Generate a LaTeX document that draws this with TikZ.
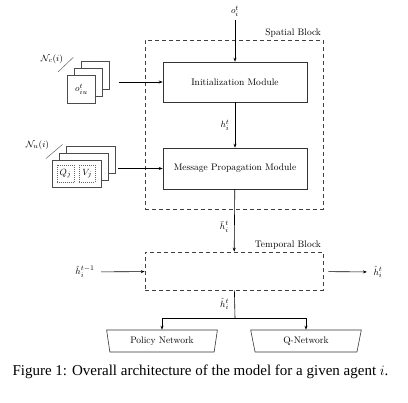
\documentclass[tikz,border=0pt]{standalone}
\usepackage{fontspec}
\newfontfamily\capfont{Liberation Serif}
\usetikzlibrary{arrows.meta,shapes.geometric,positioning}
\tikzset{
  module/.style={draw=black!80, minimum width=144pt, minimum height=40pt, inner sep=0pt},
  block/.style={draw=black!75, dash pattern=on 4pt off 3pt, inner sep=0pt},
  card/.style={draw=black!70, fill=white, inner sep=0pt},
  slot/.style={draw=black!60, line width=0.4pt, dash pattern=on 1pt off 1pt, inner sep=0pt, minimum height=17pt},
  head/.style={draw=black!80, trapezium, shape border rotate=180, trapezium stretches=true,
    trapezium angle=77, minimum width=111pt, minimum height=22pt, inner sep=0pt},
  tick/.style={draw=black!70, line width=0.4pt},
}
\begin{document}
\begin{tikzpicture}[x=1pt,y=-1pt,line width=0.6pt,
  >={Stealth[length=4pt,width=3pt]}, font=\fontsize{9.5}{11}\selectfont]
\useasboundingbox (0,0) rectangle (408,403);
% spatial block
\node[block, minimum width=178pt, minimum height=169pt] (spatial) at (234,124.5) {};
\node[anchor=south east, inner sep=2pt] (spatiallbl) at (spatial.north east) {Spatial Block};
\node[module] (init) at (235,82) {Initialization Module};
\node[module, minimum height=41pt] (msg) at (235,168.5) {Message Propagation Module};
\node (obs) at (235,11) {$o_i^t$};
\draw[->] (obs) -- (init);
\draw[->] (init) -- (msg) node[midway, left, xshift=-2pt] {$h_i^t$};
% neighbour observations
\foreach \k/\d in {3/14,2/7}
  \node[card, minimum width=27.5pt, minimum height=28pt] (ou\k) at (81.5+\d,89-\d) {};
\node[card, minimum width=27.5pt, minimum height=28pt] (ou1) at (81.5,89) {$o^t_{iu}$};
\node (nc) at (52,59) {$\mathcal{N}_c(i)$};
\draw[tick] (58.3,71.7) -- (73.3,57.3);
\draw[->, shorten <=9pt] (ou3.east |- init) -- (init);
% neighbour messages
\foreach \k/\d in {3/13.4,2/6.7}
  \node[card, minimum width=49pt, minimum height=27pt] (qv\k) at (77.2+\d,173.7-\d) {};
\node[card, minimum width=49pt, minimum height=27pt] (qv1) at (77.2,173.7) {};
\node[slot, minimum width=17.6pt] (qslot) at (65.5,173.5) {$Q_j$};
\node[slot, minimum width=15.7pt] (vslot) at (87.2,173.5) {$V_j$};
\node (nu) at (37.5,145.5) {$\mathcal{N}_u(i)$};
\draw[tick] (46,158.5) -- (62.5,144.5);
\draw[->, shorten <=3pt] (qv3.east |- msg) -- (msg);
% temporal block
\node[block, minimum width=178pt, minimum height=38pt] (temporal) at (234,271) {};
\node[anchor=south east, inner sep=2pt] (temporallbl) at (temporal.north east) {Temporal Block};
\draw[->] (msg) -- (temporal) node[pos=0.6, left, xshift=-2pt] {$\bar{h}_i^t$};
\node (hprev) at (85,272) {$\hat{h}_i^{t-1}$};
\node (hnext) at (378,272) {$\hat{h}_i^t$};
\draw[->, shorten <=3pt] (hprev) -- (temporal);
\draw[->, shorten <=5pt, shorten >=3pt] (temporal) -- (hnext);
% heads
\coordinate (fork) at (235,318);
\draw (temporal) -- (fork) node[midway, left, xshift=-2pt] {$\hat{h}_i^t$};
\node[head] (policy) at (162,341) {Policy Network};
\node[head] (qnet) at (306,341) {Q-Network};
\draw[->] (fork) -| (policy);
\draw[->] (fork) -| (qnet);
\node[font=\capfont\fontsize{15}{18}\selectfont] (caption) at (200.5,372)
  {Figure 1: Overall architecture of the model for a given agent $i$.};
\end{tikzpicture}
\end{document}
